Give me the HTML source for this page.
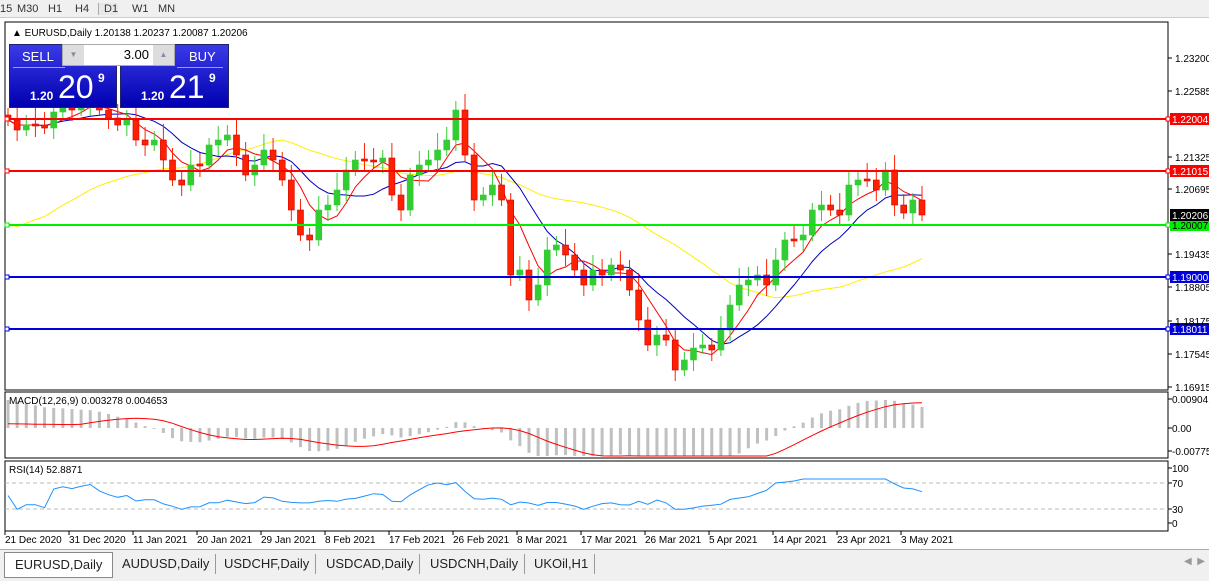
<!DOCTYPE html>
<html><head><meta charset="utf-8"><style>
body{margin:0;width:1209px;height:580px;overflow:hidden;background:#fff;font-family:"Liberation Sans",sans-serif;}
#tb{position:absolute;left:0;top:0;width:1209px;height:17px;background:#f0f0f0;border-bottom:1px solid #ccc;font-size:11px;color:#333}
#tb span{position:absolute;top:3px}
#tabs{position:absolute;left:0;top:549px;width:1209px;height:31px;background:#f0f0f0;border-top:1px solid #aaa;font-size:13px;color:#222}
.tab{position:absolute;top:4px;height:20px;line-height:20px;padding:0 6px;border-right:1px solid #999}
svg{position:absolute;left:0;top:0}
</style></head><body>
<div id="tb"><span style="left:0">15</span><span style="left:17px">M30</span><span style="left:48px">H1</span><span style="left:75px">H4</span><span style="left:98px;border-left:1px solid #aaa;padding-left:5px;background:#e8e8e8">D1</span><span style="left:132px">W1</span><span style="left:158px">MN</span></div>
<svg id="s" width="1209" height="549" font-family="Liberation Sans,sans-serif" font-size="10"></svg>
<div id="tabs">
<div class="tab" style="left:4px;top:2px;height:24px;line-height:24px;background:#fff;border:1px solid #888;font-size:13px;padding:0 10px">EURUSD,Daily</div>
<div class="tab" style="left:116px">AUDUSD,Daily</div>
<div class="tab" style="left:218px">USDCHF,Daily</div>
<div class="tab" style="left:320px">USDCAD,Daily</div>
<div class="tab" style="left:424px">USDCNH,Daily</div>
<div class="tab" style="left:528px">UKOil,H1</div>
<span style="position:absolute;left:1184px;top:6px;color:#999;font-size:10px">◀&nbsp;&nbsp;▶</span>
</div>
<div style="position:absolute;left:9px;top:44px;width:106px;height:62px;background:linear-gradient(#3a3ae8,#0000b0);border:1px solid #226;color:#fff">
<div style="position:absolute;left:12px;top:4px;font-size:13px">SELL</div>
<div style="position:absolute;left:3px;top:22px;width:52px;border-top:1px solid #99f"></div>
<div style="position:absolute;left:20px;top:44px;font-size:12px;font-weight:bold">1.20</div>
<div style="position:absolute;left:48px;top:24px;font-size:32px">20</div>
<div style="position:absolute;left:88px;top:26px;font-size:12px;font-weight:bold">9</div></div>
<div style="position:absolute;left:120px;top:44px;width:107px;height:62px;background:linear-gradient(#3a3ae8,#0000b0);border:1px solid #226;color:#fff">
<div style="position:absolute;left:68px;top:4px;font-size:13px">BUY</div>
<div style="position:absolute;left:56px;top:22px;width:46px;border-top:1px solid #99f"></div>
<div style="position:absolute;left:20px;top:44px;font-size:12px;font-weight:bold">1.20</div>
<div style="position:absolute;left:48px;top:24px;font-size:32px">21</div>
<div style="position:absolute;left:88px;top:26px;font-size:12px;font-weight:bold">9</div></div>
<div style="position:absolute;left:62px;top:44px;width:111px;height:20px;background:#fff;border:1px solid #aaa;font-size:13px">
<div style="position:absolute;left:0;top:0;width:21px;height:20px;background:#ddd;color:#88a;font-size:8px;text-align:center;line-height:20px">▼</div>
<div style="position:absolute;right:25px;top:2px">3.00</div>
<div style="position:absolute;right:0;top:0;width:21px;height:20px;background:#ddd;color:#88a;font-size:8px;text-align:center;line-height:20px">▲</div></div>
<script>
const ys=[120,130,125,125,128,112,108,110,105,100,110,118,125,120,140,145,140,160,180,185,165,165,145,140,135,155,175,165,150,160,180,210,235,240,210,205,190,170,160,160,162,158,195,210,175,165,160,150,140,110,155,200,195,185,200,275,270,300,285,250,245,255,270,285,270,275,265,270,290,320,345,335,340,370,360,348,345,350,330,305,285,280,275,285,260,240,240,235,210,205,210,215,185,180,180,190,170,205,213,200,215];
const Y=p=>58+(1.232-p)*5234.7, P=y=>1.232-(y-58)/5234.7;
let s='';const X=i=>8+i*9.14;
function line(x1,y1,x2,y2,c,w,d){s+=`<line x1="${x1}" y1="${y1}" x2="${x2}" y2="${y2}" stroke="${c}" stroke-width="${w||1}" ${d?'stroke-dasharray="'+d+'"':''}/>`}
function txt(x,y,t,c,extra){s+=`<text x="${x}" y="${y}" fill="${c||'#000'}" ${extra||''}>${t}</text>`}
s+='<rect x="5" y="22" width="1163" height="368" fill="#fff" stroke="#000"/>';
s+='<rect x="5" y="392" width="1163" height="66" fill="#fff" stroke="#000"/>';
s+='<rect x="5" y="461" width="1163" height="70" fill="#fff" stroke="#000"/>';
function sma(n){return ys.map((v,i)=>{let t=0;for(let k=Math.max(0,i-n+1);k<=i;k++)t+=ys[k];return t/(i-Math.max(0,i-n+1)+1)})}
function pl(arr,c,st){s+=`<polyline fill="none" stroke="${c}" points="${arr.map((v,i)=>i>=st?X(i)+','+v.toFixed(1):'').join(' ')}"/>`}
let yel=sma(30).map((v,i)=>v+(i<30?(30-i)*3.5:0));
pl(yel,'#ffee00',0);pl(sma(10),'#0000c0',0);pl(sma(5),'#ff0000',0);
for(let i=0;i<ys.length;i++){let o=i?ys[i-1]:ys[0]-5,c=ys[i];let up=c<o;let col=up?'#32cd32':'#ff2000';let top=Math.min(o,c),bot=Math.max(o,c);if(bot-top<2){top-=1;bot+=1}
let wt=top-7-(i*7%11),wb=bot+6+(i*5%10);line(X(i),wt,X(i),wb,col);s+=`<rect x="${X(i)-3}" y="${top}" width="6" height="${bot-top}" fill="${col}" stroke="${up?col:'#c00'}" stroke-width="0.6"/>`}
[[119,'#ff0000','1.22004'],[171,'#ff0000','1.21015'],[225,'#00ee00','1.20007'],[277,'#0000dd','1.19000'],[329,'#0000dd','1.18011']].forEach(([y,c,t])=>{line(5,y,1168,y,c,2);s+=`<rect x="5" y="${y-2}" width="4" height="4" fill="#fff" stroke="${c}"/><rect x="1166" y="${y-2}" width="4" height="4" fill="#fff" stroke="${c}"/><rect x="1170" y="${y-6}" width="39" height="12" fill="${c}"/>`;txt(1172,y+4,t,c=='#00ee00'?'#000':'#fff')});
s+=`<rect x="1170" y="209" width="39" height="12" fill="#000"/>`;txt(1172,219,'1.20206','#fff');
[[58,'1.23200'],[91,'1.22585'],[157,'1.21325'],[189,'1.20695'],[254,'1.19435'],[287,'1.18805'],[321,'1.18175'],[354,'1.17545'],[387,'1.16915']].forEach(([y,t])=>{line(1168,y,1172,y,'#000');txt(1175,y+4,t)});
txt(12,36,'▲ EURUSD,Daily  1.20138 1.20237 1.20087 1.20206','#000','font-size="10"');
const pr=ys.map(P);function ema(a,n){let k=2/(n+1),r=[],e=a[0];a.forEach(v=>{e=v*k+e*(1-k);r.push(e)});return r}
let e12=ema(pr,12),e26=ema(pr,26),m=e12.map((v,i)=>v-e26[i]+(i<18?0.0052*(1-i/18):0));let sig=m.map((v,i)=>{let t=0,c=0;for(let k=Math.max(0,i-8);k<=i;k++){t+=m[k];c++}return t/c*Math.min(1,Math.max(0.15,(i-6)/12))});
const MY=v=>Math.max(400,Math.min(456,428-v*5500));
m.forEach((v,i)=>line(X(i),428,X(i),MY(v),'#c0c0c0',3));
s+=`<polyline fill="none" stroke="#ff0000" points="${sig.map((v,i)=>X(i)+','+MY(v).toFixed(1)).join(' ')}"/>`;
txt(9,404,'MACD(12,26,9) 0.003278 0.004653');
[[399,'0.009041'],[428,'0.00'],[451,'-0.00775']].forEach(([y,t])=>{line(1168,y,1172,y,'#000');txt(1172,y+4,t)});
line(5,483,1168,483,'#bbb',1,'4,3');line(5,509,1168,509,'#bbb',1,'4,3');
let rs=[];for(let i=0;i<ys.length;i++){let g=0,l=0;for(let k=Math.max(1,i-13);k<=i;k++){let d=ys[k-1]-ys[k];if(d>0)g+=d;else l-=d}rs.push(l+g?100*g/(g+l):50)}
const RY=v=>523-v*0.55;
s+=`<polyline fill="none" stroke="#1e90ff" points="${rs.map((v,i)=>X(i)+','+RY(Math.min(80,Math.max(25,v))).toFixed(1)).join(' ')}"/>`;
txt(9,473,'RSI(14) 52.8871');
[[468,'100'],[483,'70'],[509,'30'],[523,'0']].forEach(([y,t])=>{line(1168,y,1172,y,'#000');txt(1172,y+4,t)});
['21 Dec 2020','31 Dec 2020','11 Jan 2021','20 Jan 2021','29 Jan 2021','8 Feb 2021','17 Feb 2021','26 Feb 2021','8 Mar 2021','17 Mar 2021','26 Mar 2021','5 Apr 2021','14 Apr 2021','23 Apr 2021','3 May 2021'].forEach((t,i)=>{let x=5+i*64;line(x,531,x,535,'#000');txt(x,543,t)});
document.getElementById('s').innerHTML=s;
</script>
</body></html>
